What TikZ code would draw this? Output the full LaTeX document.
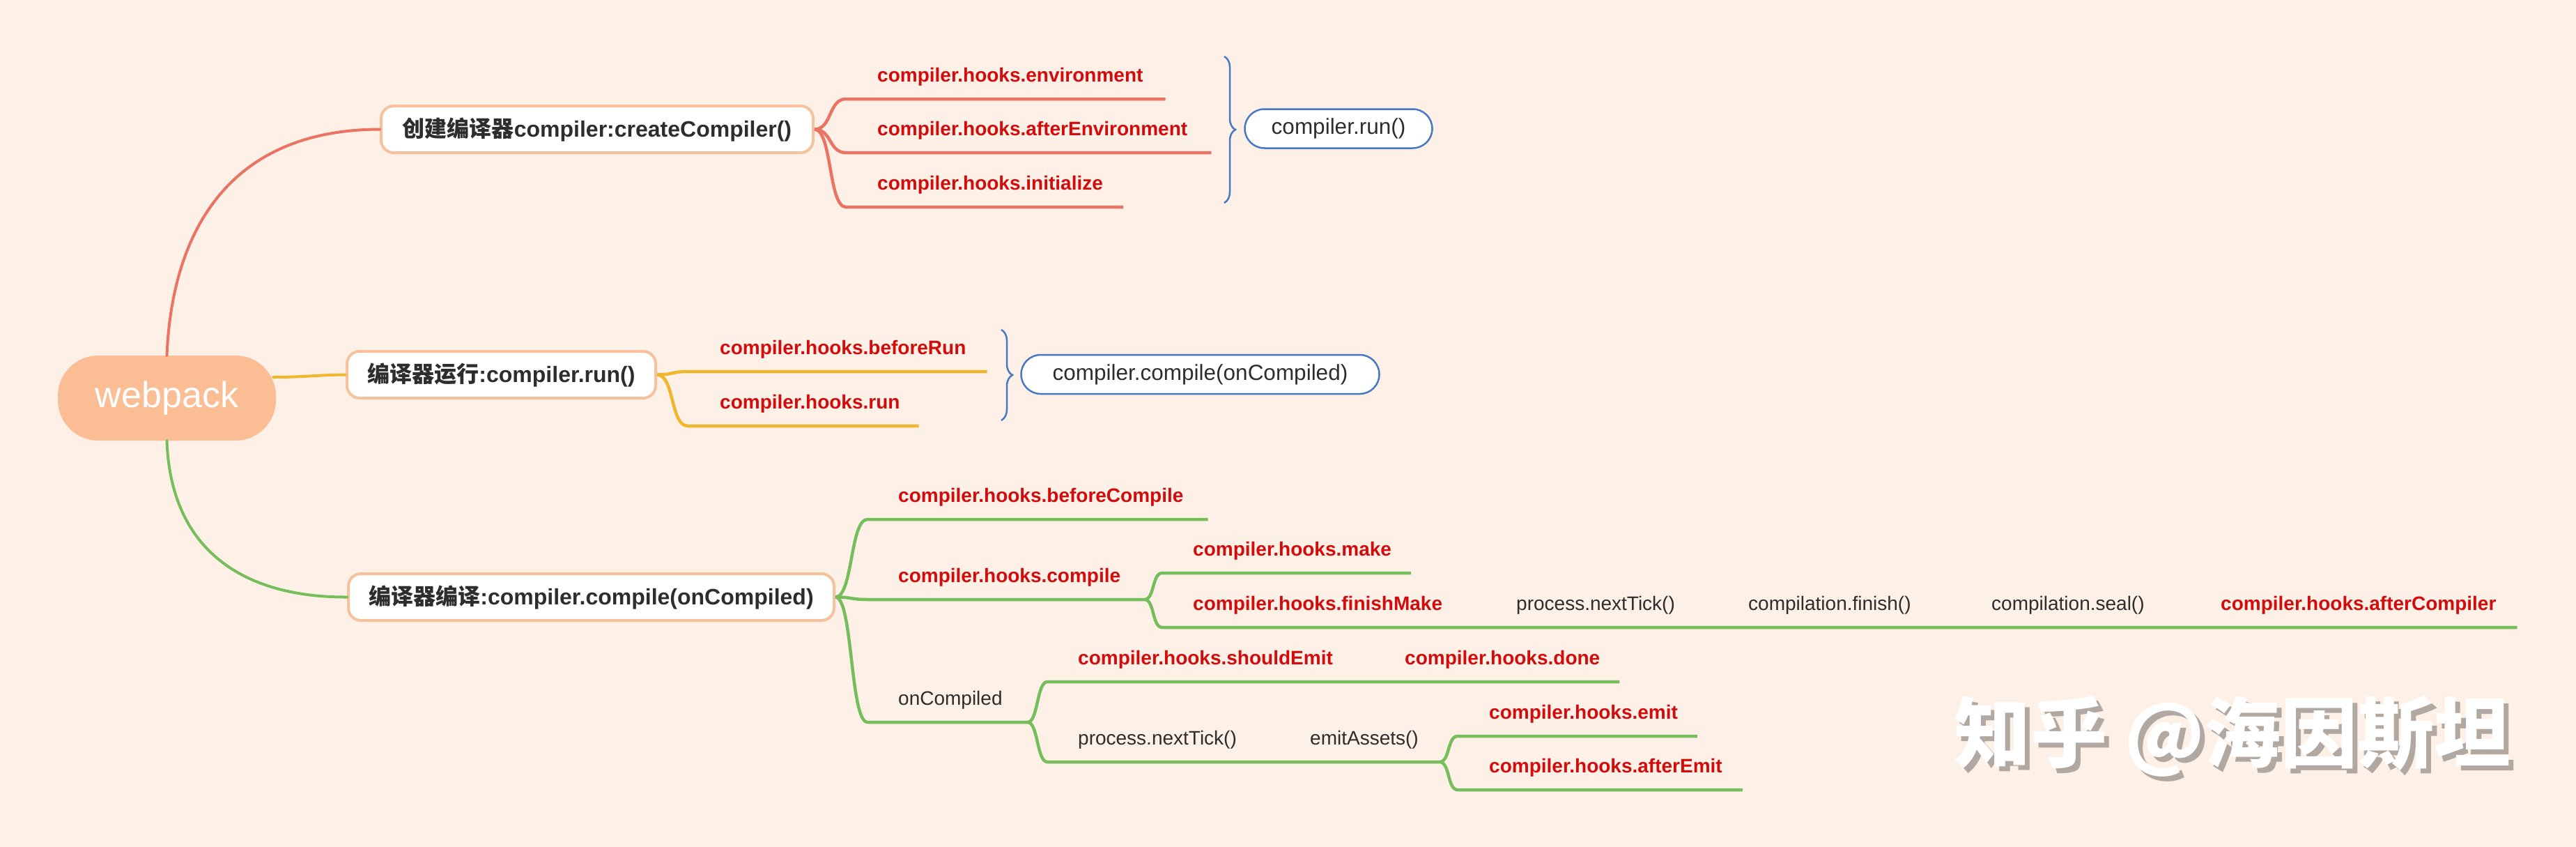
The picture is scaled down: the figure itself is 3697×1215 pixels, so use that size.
\documentclass[tikz,border=0pt]{standalone}
\usepackage{fontspec}
\setmainfont{Liberation Sans}
\newfontfamily\cjk{Noto Sans CJK SC}
\usetikzlibrary{calc,decorations.pathreplacing}
\definecolor{bgc}{RGB}{253,240,231}
\definecolor{rootc}{RGB}{251,189,148}
\definecolor{topicb}{RGB}{246,194,158}
\definecolor{redl}{RGB}{235,115,98}
\definecolor{yell}{RGB}{240,183,44}
\definecolor{grnl}{RGB}{118,190,92}
\definecolor{bluel}{RGB}{72,120,195}
\definecolor{hookred}{RGB}{210,12,12}
\definecolor{txt}{RGB}{45,45,45}
\definecolor{shad}{RGB}{178,168,162}
\begin{document}
\begin{tikzpicture}[x=1pt,y=-1pt,
  root/.style={fill=rootc, rounded corners=58pt, minimum width=313pt, minimum height=122pt, text=white, font=\fontsize{52}{60}\selectfont, inner sep=0pt},
  topic/.style={draw=topicb, line width=4pt, fill=white, rounded corners=18pt, text=txt, font=\fontsize{32}{38}\selectfont\bfseries, minimum height=67pt, inner xsep=0pt},
  bluebox/.style={draw=bluel, line width=2.5pt, fill=white, rounded corners=28pt, text=txt, font=\fontsize{31.5}{36}\selectfont, minimum height=56pt, inner xsep=0pt},
  hook/.style={text=hookred, font=\fontsize{28}{32}\selectfont\bfseries, inner sep=0pt, anchor=base west},
  plain/.style={text=txt, font=\fontsize{28}{32}\selectfont, inner sep=0pt, anchor=base west},
  mainline/.style={line width=4pt, line cap=round},
  redb/.style={draw=redl, line width=4.5pt},
  yelb/.style={draw=yell, line width=4.5pt},
  grnb/.style={draw=grnl, line width=4.5pt},
  bracestyle/.style={draw=bluel, line width=2.5pt, decorate, decoration={brace, amplitude=16pt}}
]
\fill[bgc] (0,0) rectangle (3697,1215);
\useasboundingbox (0,0) rectangle (3697,1215);

% root and topics
\node[root] (wp) at (239.5,571) {webpack};
\node[topic, minimum width=620pt] (n1) at (857,185.5) {{\cjk 创建编译器}compiler:createCompiler()};
\node[topic, minimum width=443pt] (n2) at (719.5,537.5) {{\cjk 编译器运行}:compiler.run()};
\node[topic, minimum width=697pt] (n3) at (848.5,856.5) {{\cjk 编译器编译}:compiler.compile(onCompiled)};

\draw[mainline, draw=redl] (wp.north) .. controls (247,330) and (330,186) .. (n1.west);
\draw[mainline, draw=yell] ($(wp.east)+(-4,-30)$) .. controls (440,541) and (450,538) .. (n2.west);
\draw[mainline, draw=grnl] (wp.south) .. controls (245,790) and (350,857) .. (n3.west);

% branch 1
\node[hook] (env) at (1259,117) {compiler.hooks.environment};
\node[hook] (aenv) at (1259,194) {compiler.hooks.afterEnvironment};
\node[hook] (init) at (1259,272) {compiler.hooks.initialize};
\draw[redb] (n1.east) .. controls +(25,0) and +(-25,0) .. ($(env.base west)+(-45,25)$) -- ($(env.base east)+(32,25)$);
\draw[redb] (n1.east) .. controls +(25,0) and +(-25,0) .. ($(aenv.base west)+(-45,25)$) -- ($(aenv.base east)+(34,25)$);
\draw[redb] (n1.east) .. controls +(25,0) and +(-25,0) .. ($(init.base west)+(-45,25)$) -- ($(init.base east)+(29,25)$);
\coordinate (b1a) at (1757,81);
\coordinate (b1b) at (1757,291);
\draw[bracestyle] (b1a) -- (b1b);
\node[bluebox, minimum width=269pt] (run) at (1921,184.5) {compiler.run()};

% branch 2
\node[hook] (brun) at (1033,508) {compiler.hooks.beforeRun};
\node[hook] (hrun) at (1033,586) {compiler.hooks.run};
\draw[yelb] (n2.east) .. controls +(25,0) and +(-25,0) .. ($(brun.base west)+(-46,25)$) -- ($(brun.base east)+(30,25)$);
\draw[yelb] (n2.east) .. controls +(25,0) and +(-25,0) .. ($(hrun.base west)+(-46,25)$) -- ($(hrun.base east)+(27,25)$);
\coordinate (b2a) at (1437,473);
\coordinate (b2b) at (1437,603);
\draw[bracestyle] (b2a) -- (b2b);
\node[bluebox, minimum width=514pt] (cc) at (1722.5,537) {compiler.compile(onCompiled)};

% branch 3
\node[hook] (bc) at (1289,720) {compiler.hooks.beforeCompile};
\node[hook] (cmp) at (1289,835) {compiler.hooks.compile};
\node[plain] (onc) at (1289,1011) {onCompiled};
\coordinate (fcmp) at ($(cmp.base east)+(34,25)$);
\coordinate (fonc) at ($(onc.base east)+(36,25)$);
\draw[grnb] (n3.east) .. controls +(25,0) and +(-25,0) .. ($(bc.base west)+(-44,25)$) -- ($(bc.base east)+(35,25)$);
\draw[grnb] (n3.east) .. controls +(25,0) and +(-25,0) .. ($(cmp.base west)+(-44,25)$) -- (fcmp);
\draw[grnb] (n3.east) .. controls +(25,0) and +(-25,0) .. ($(onc.base west)+(-44,25)$) -- (fonc);

\node[hook] (make) at (1712,797) {compiler.hooks.make};
\node[hook] (fm) at (1712,875) {compiler.hooks.finishMake};
\node[plain] (pt1) at (2176,875) {process.nextTick()};
\node[plain] (cf) at (2509,875) {compilation.finish()};
\node[plain] (cs) at (2858,875) {compilation.seal()};
\node[hook] (ac) at (3187,875) {compiler.hooks.afterCompiler};
\draw[grnb] (fcmp) .. controls +(15,0) and +(-15,0) .. ($(make.base west)+(-44,25)$) -- ($(make.base east)+(28,25)$);
\draw[grnb] (fcmp) .. controls +(15,0) and +(-15,0) .. ($(fm.base west)+(-44,25)$) -- ($(ac.base east)+(30,25)$);

\node[hook] (se) at (1547,953) {compiler.hooks.shouldEmit};
\node[hook] (done) at (2016,953) {compiler.hooks.done};
\node[plain] (pt2) at (1547,1068) {process.nextTick()};
\node[plain] (ea) at (1880,1068) {emitAssets()};
\coordinate (fea) at ($(ea.base east)+(30,25)$);
\draw[grnb] (fonc) .. controls +(15,0) and +(-15,0) .. ($(se.base west)+(-44,25)$) -- ($(done.base east)+(28,25)$);
\draw[grnb] (fonc) .. controls +(15,0) and +(-15,0) .. ($(pt2.base west)+(-44,25)$) -- (fea);

\node[hook] (emit) at (2137,1031) {compiler.hooks.emit};
\node[hook] (aemit) at (2137,1108) {compiler.hooks.afterEmit};
\draw[grnb] (fea) .. controls +(15,0) and +(-15,0) .. ($(emit.base west)+(-45,25)$) -- ($(emit.base east)+(28,25)$);
\draw[grnb] (fea) .. controls +(15,0) and +(-15,0) .. ($(aemit.base west)+(-45,25)$) -- ($(aemit.base east)+(29,25)$);

% watermark
\node[text=shad, font=\cjk\bfseries\fontsize{110}{120}\selectfont, inner sep=0pt] (wms) at (3211,1063) {知乎 @海因斯坦};
\node[text=white, font=\cjk\bfseries\fontsize{110}{120}\selectfont, inner sep=0pt] (wm) at (3204,1056) {知乎 @海因斯坦};
\end{tikzpicture}
\end{document}
